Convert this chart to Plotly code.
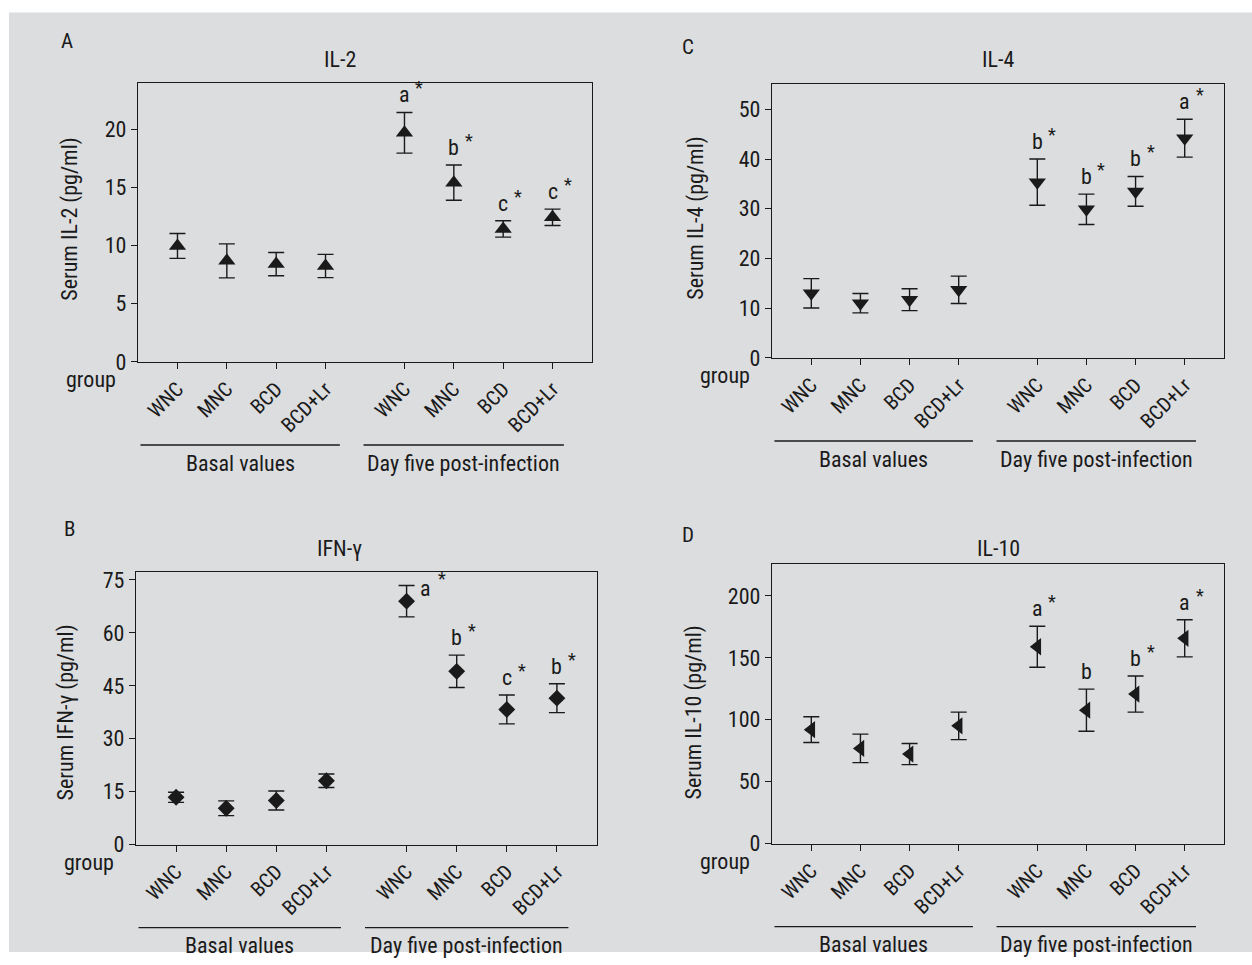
import plotly.graph_objects as go

W, H = 1252, 965
FONT = "Roboto Condensed, Liberation Sans Narrow, Arial Narrow, sans-serif"
INK = "#1a1a1a"

# ---------------- data ----------------
groups = ["WNC", "MNC", "BCD", "BCD+Lr", "WNC", "MNC", "BCD", "BCD+Lr"]
xpos = [0, 1, 2, 3, 4.6, 5.6, 6.6, 7.6]

il2_mean = [9.96, 8.68, 8.40, 8.24, 19.68, 15.40, 11.42, 12.42]
il2_err = [1.07, 1.46, 1.00, 1.00, 1.75, 1.52, 0.70, 0.70]
il2_letters = ["", "", "", "", "a", "b", "c", "c"]
il2_stars = ["", "", "", "", "*", "*", "*", "*"]

ifn_mean = [13.4, 10.3, 12.5, 18.1, 69.0, 49.1, 38.3, 41.5]
ifn_err = [1.45, 2.10, 2.70, 1.90, 4.45, 4.60, 4.10, 4.10]
ifn_letters = ["", "", "", "", "a", "b", "c", "b"]
ifn_stars = ["", "", "", "", "*", "*", "*", "*"]

il4_mean = [13.0, 11.0, 11.7, 13.7, 35.35, 29.9, 33.5, 44.2]
il4_err = [2.95, 1.95, 2.20, 2.75, 4.65, 3.05, 3.00, 3.80]
il4_letters = ["", "", "", "", "b", "b", "b", "a"]
il4_stars = ["", "", "", "", "*", "*", "*", "*"]

il10_mean = [92.0, 76.9, 72.3, 95.1, 159.0, 107.8, 120.8, 165.8]
il10_err = [10.4, 11.5, 8.5, 11.1, 16.6, 17.0, 14.6, 15.0]
il10_letters = ["", "", "", "", "a", "b", "b", "a"]
il10_stars = ["", "", "", "", "*", "", "*", "*"]

span_names = ["Basal values", "Day five post-infection"]
span_ranges = [(-0.75, 3.29), (3.77, 7.83)]

# ---------------- layout helpers ----------------
# vertical calibration of the captured page (measured from earlier renders)
Y_OFF, Y_SCALE = 4.6, 0.981

def px(x):
    return x / W

def py(y):
    yf = (y - Y_OFF) / Y_SCALE
    return 1 - yf / H

panels = [
    dict(key="A", title="IL-2", ytitle="Serum IL-2 (pg/ml)", mean=il2_mean, err=il2_err,
         letters=il2_letters, stars=il2_stars, symbol="triangle-up", msize=15,
         box=(138, 83, 592, 362), yrange=[0, 24], dtick=5,
         letter_xy=(67, 42), title_xy=(340, 60), ytitle_xy=(70, 220), side=[]),
    dict(key="C", title="IL-4", ytitle="Serum IL-4 (pg/ml)", mean=il4_mean, err=il4_err,
         letters=il4_letters, stars=il4_stars, symbol="triangle-down", msize=15,
         box=(772, 84, 1224, 358), yrange=[0, 55.2], dtick=10,
         letter_xy=(688, 48), title_xy=(998, 60), ytitle_xy=(696, 219), side=[]),
    dict(key="B", title="IFN-\u03b3", ytitle="Serum IFN-\u03b3 (pg/ml)", mean=ifn_mean, err=ifn_err,
         letters=ifn_letters, stars=ifn_stars, symbol="diamond", msize=13,
         box=(136, 572, 597, 844), yrange=[0, 77.2], dtick=15,
         letter_xy=(69, 529), title_xy=(340, 548), ytitle_xy=(66, 712), side=[4]),
    dict(key="D", title="IL-10", ytitle="Serum IL-10 (pg/ml)", mean=il10_mean, err=il10_err,
         letters=il10_letters, stars=il10_stars, symbol="triangle-left", msize=15,
         box=(772, 564, 1224, 843), yrange=[0, 225.7], dtick=50,
         letter_xy=(688, 535), title_xy=(998, 548), ytitle_xy=(694, 712), side=[]),
]

fig = go.Figure()
annotations = []
shapes = [dict(type="rect", xref="paper", yref="paper", x0=px(9), x1=1, y0=0, y1=py(13),
               fillcolor="#dcdddf", line=dict(width=0), layer="below")]

for i, p in enumerate(panels):
    n = i + 1
    xa = "x" if n == 1 else f"x{n}"
    ya = "y" if n == 1 else f"y{n}"
    x0, y0, x1, y1 = p["box"]
    fig.add_trace(go.Scatter(
        x=xpos, y=p["mean"], xaxis=xa, yaxis=ya, mode="markers",
        marker=dict(symbol=p["symbol"], size=p["msize"], color=INK, line=dict(width=0)),
        error_y=dict(type="data", array=p["err"], visible=True, color=INK,
                     thickness=1.4, width=8),
        showlegend=False, hoverinfo="skip"))
    axis_common = dict(showline=True, linecolor=INK, linewidth=1.3, mirror=True,
                       ticks="outside", ticklen=6, tickcolor=INK, tickwidth=1.2,
                       showgrid=False, zeroline=False,
                       tickfont=dict(family=FONT, size=22, color=INK))
    fig.layout[("xaxis" if n == 1 else f"xaxis{n}")] = dict(
        axis_common, domain=[px(x0), px(x1)], range=[-0.8, 8.4], anchor=ya,
        tickmode="array", tickvals=xpos, ticktext=groups, tickangle=-45,
        tickfont=dict(family=FONT, size=20.5, color=INK))
    fig.layout[("yaxis" if n == 1 else f"yaxis{n}")] = dict(
        axis_common, domain=[py(y1), py(y0)], range=p["yrange"], anchor=xa,
        dtick=p["dtick"], tick0=0)

    # significance letters
    for j, (lt, st) in enumerate(zip(p["letters"], p["stars"])):
        if not lt:
            continue
        top = p["mean"][j] + p["err"][j]
        if j in p["side"]:
            annotations.append(dict(x=xpos[j], y=top, xref=xa, yref=ya, text=lt,
                                    showarrow=False, xanchor="center", yanchor="middle",
                                    xshift=19, yshift=-3,
                                    font=dict(family=FONT, size=22, color=INK)))
            if st:
                annotations.append(dict(x=xpos[j], y=top, xref=xa, yref=ya, text=st,
                                        showarrow=False, xanchor="center", yanchor="middle",
                                        xshift=35, yshift=7,
                                        font=dict(family=FONT, size=18, color=INK)))
        else:
            annotations.append(dict(x=xpos[j], y=top, xref=xa, yref=ya, text=lt,
                                    showarrow=False, xanchor="center", yanchor="bottom",
                                    yshift=3, font=dict(family=FONT, size=22, color=INK)))
            if st:
                annotations.append(dict(x=xpos[j], y=top, xref=xa, yref=ya, text=st,
                                        showarrow=False, xanchor="center", yanchor="bottom",
                                        xshift=15, yshift=12,
                                        font=dict(family=FONT, size=18, color=INK)))

    # group spans below the axis
    line_y = y1 + 83
    text_y = y1 + 101
    for name, (a, b) in zip(span_names, span_ranges):
        shapes.append(dict(type="line", xref=xa, yref="paper", x0=a, x1=b,
                           y0=py(line_y), y1=py(line_y), line=dict(color=INK, width=1.3)))
        annotations.append(dict(x=(a + b) / 2, y=py(text_y), xref=xa, yref="paper",
                                text=name, showarrow=False, xanchor="center", yanchor="middle",
                                font=dict(family=FONT, size=22, color=INK)))
    # "group" label
    annotations.append(dict(x=px(x0 - 20), y=py(y1 + 18), xref="paper", yref="paper",
                            text="group", showarrow=False, xanchor="right", yanchor="middle",
                            font=dict(family=FONT, size=22, color=INK)))
    # panel letter, title, y title
    lx, ly = p["letter_xy"]
    annotations.append(dict(x=px(lx), y=py(ly), xref="paper", yref="paper", text=p["key"],
                            showarrow=False, xanchor="center", yanchor="middle",
                            font=dict(family=FONT, size=21, color=INK)))
    tx, ty = p["title_xy"]
    annotations.append(dict(x=px(tx), y=py(ty), xref="paper", yref="paper", text=p["title"],
                            showarrow=False, xanchor="center", yanchor="middle",
                            font=dict(family=FONT, size=22, color=INK)))
    yx, yy = p["ytitle_xy"]
    annotations.append(dict(x=px(yx), y=py(yy), xref="paper", yref="paper", text=p["ytitle"],
                            showarrow=False, xanchor="center", yanchor="middle", textangle=-90,
                            font=dict(family=FONT, size=22, color=INK)))

fig.update_layout(width=W, height=H, margin=dict(l=0, r=0, t=0, b=0, pad=0),
                  paper_bgcolor="white", plot_bgcolor="white",
                  annotations=annotations, shapes=shapes,
                  font=dict(family=FONT, color=INK))

page_fix = (
    "document.documentElement.style.margin='0px';"
    "document.documentElement.style.overflow='hidden';"
    "document.body.style.margin='0px';"
    "document.body.style.overflow='hidden';"
)
fig.write_html("out.html", post_script=page_fix, config={"displayModeBar": False})
